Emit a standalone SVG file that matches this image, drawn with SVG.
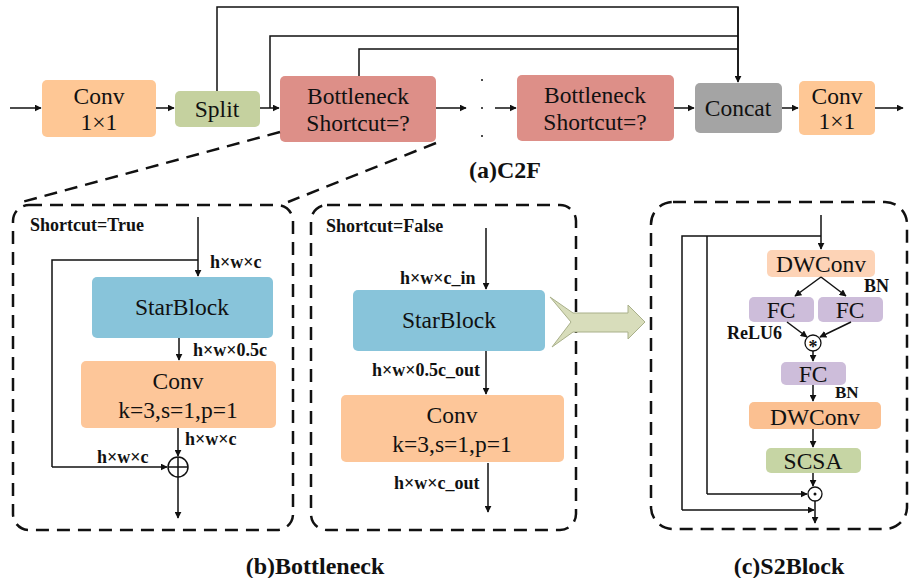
<svg xmlns="http://www.w3.org/2000/svg" width="909" height="578" viewBox="0 0 909 578">
<defs>
<marker id="ah" viewBox="0 0 10 10" refX="9" refY="5" markerWidth="7" markerHeight="7" markerUnits="userSpaceOnUse" orient="auto"><path d="M0,0 L10,5 L0,10 z" fill="#111"/></marker>
<style>
.ln{fill:none;stroke:#111;stroke-width:1.5}
.ar{fill:none;stroke:#111;stroke-width:1.5;marker-end:url(#ah)}
.dash{fill:none;stroke:#111;stroke-width:2.5;stroke-dasharray:13 8}
.bt{font-family:"Liberation Serif","Times New Roman",serif;font-size:23.5px;fill:#111;text-anchor:middle}
.lb{font-family:"Liberation Serif","Times New Roman",serif;font-size:18px;font-weight:bold;fill:#111}
.cap{font-family:"Liberation Serif","Times New Roman",serif;font-size:24px;font-weight:bold;fill:#111;text-anchor:middle}
</style>
</defs>
<rect width="909" height="578" fill="#fff"/>

<!-- top row nodes -->
<g id="conv1"><rect x="42" y="80" width="114" height="57" rx="5" fill="#FEC795"/><text class="bt" x="99" y="104">Conv</text><text class="bt" x="99" y="130">1×1</text></g>
<g id="split"><rect x="175" y="91" width="85" height="36" rx="5" fill="#C5D19F"/><text class="bt" x="217" y="117">Split</text></g>
<g id="bneck1"><rect x="280" y="76" width="156" height="66" rx="5" fill="#DD8F88"/><text class="bt" x="358" y="104">Bottleneck</text><text class="bt" x="358" y="131">Shortcut=?</text></g>
<g id="dots"><circle cx="482" cy="80" r="1" fill="#111"/><circle cx="482" cy="108" r="1" fill="#111"/><circle cx="482" cy="136" r="1" fill="#111"/></g>
<g id="bneck2"><rect x="517" y="75" width="157" height="66" rx="5" fill="#DD8F88"/><text class="bt" x="595" y="103">Bottleneck</text><text class="bt" x="595" y="130">Shortcut=?</text></g>
<g id="concat"><rect x="695" y="83" width="87" height="50" rx="5" fill="#A4A4A4"/><text class="bt" x="738" y="116">Concat</text></g>
<g id="conv2"><rect x="799" y="81" width="76" height="54" rx="5" fill="#FEC795"/><text class="bt" x="837" y="104">Conv</text><text class="bt" x="837" y="129">1×1</text></g>
<text class="cap" x="505" y="178">(a)C2F</text>

<!-- (b) left box -->
<g id="boxTrue">
<rect class="dash" x="13" y="205" width="280" height="325" rx="16"/>
<text class="lb" x="30" y="231">Shortcut=True</text>
<g id="star1"><rect x="92" y="277" width="181" height="61" rx="5" fill="#88C4DA"/><text class="bt" x="182" y="315">StarBlock</text></g>
<g id="convb1"><rect x="81" y="361" width="195" height="67" rx="5" fill="#FDC699"/><text class="bt" x="178" y="389">Conv</text><text class="bt" x="178" y="418">k=3,s=1,p=1</text></g>
<g id="add"><circle cx="178" cy="467" r="10" fill="#fff" stroke="#111" stroke-width="1.5"/><path class="ln" d="M168,467 H188 M178,457 V477"/></g>
<text class="lb" x="210" y="268">h×w×c</text>
<text class="lb" x="193" y="356">h×w×0.5c</text>
<text class="lb" x="185" y="445">h×w×c</text>
<text class="lb" x="97" y="463">h×w×c</text>
</g>

<!-- (b) right box -->
<g id="boxFalse">
<rect class="dash" x="311" y="205" width="265" height="325" rx="16"/>
<text class="lb" x="326" y="232">Shortcut=False</text>
<g id="star2"><rect x="353" y="290" width="192" height="61" rx="5" fill="#88C4DA"/><text class="bt" x="449" y="328">StarBlock</text></g>
<g id="convb2"><rect x="341" y="395" width="223" height="67" rx="5" fill="#FDC699"/><text class="bt" x="452" y="423">Conv</text><text class="bt" x="452" y="452">k=3,s=1,p=1</text></g>
<text class="lb" x="400" y="284">h×w×c_in</text>
<text class="lb" x="372" y="376">h×w×0.5c_out</text>
<text class="lb" x="394" y="489">h×w×c_out</text>
</g>
<text class="cap" x="315" y="574">(b)Bottleneck</text>

<!-- big chevron arrow -->
<g id="bigArrow"><path d="M550,297 L573,313 L628,313 L628,305 L645,322 L628,339 L628,332 L573,332 L552,347 L571,322 Z" fill="#D8DDBB" stroke="#A9B08A" stroke-width="1"/></g>

<!-- (c) box -->
<g id="boxS2">
<rect class="dash" x="651" y="202" width="256" height="327" rx="22"/>
<g id="dw1"><rect x="767" y="250" width="108" height="27" rx="5" fill="#FDD3B6"/><text class="bt" x="821" y="272">DWConv</text></g>
<g id="fc1"><rect x="749" y="297" width="65" height="25" rx="5" fill="#CDBDDA"/><text class="bt" x="781" y="318">FC</text></g>
<g id="fc2"><rect x="818" y="297" width="65" height="25" rx="5" fill="#CDBDDA"/><text class="bt" x="850" y="318">FC</text></g>
<g id="mul"><circle cx="813" cy="343" r="8" fill="#fff" stroke="#111" stroke-width="1.3"/><text x="813" y="353" style="font-family:'Liberation Serif',serif;font-size:18px;font-weight:bold;text-anchor:middle;fill:#111">*</text></g>
<g id="fc3"><rect x="781" y="362" width="65" height="23" rx="5" fill="#CDBDDA"/><text class="bt" x="813" y="382">FC</text></g>
<g id="dw2"><rect x="749" y="402" width="132" height="27" rx="5" fill="#FBC091"/><text class="bt" x="815" y="425">DWConv</text></g>
<g id="scsa"><rect x="766" y="448" width="95" height="25" rx="5" fill="#C6D5A4"/><text class="bt" x="813" y="469">SCSA</text></g>
<g id="dot"><circle cx="815" cy="494" r="7" fill="#fff" stroke="#111" stroke-width="1.3"/><circle cx="815" cy="494" r="1.5" fill="#111"/></g>
<text class="lb" x="864" y="292">BN</text>
<text class="lb" x="727" y="339">ReLU6</text>
<text class="lb" x="835" y="398" style="font-size:17px">BN</text>
</g>
<text class="cap" x="789" y="574">(c)S2Block</text>

<!-- connectors -->
<g id="connectors">
<path class="ar" d="M10,108 H41"/>
<path class="ar" d="M156,108 H174"/>
<path class="ar" d="M260,108 H279"/>
<path class="ln" d="M270,108 V36 H738"/>
<path class="ln" d="M217,91 V7 H738 V81"/>
<path class="ar" d="M738,7 V82"/>
<path class="ln" d="M359,76 V49 H738"/>
<path class="ar" d="M436,108 H466"/>
<path class="ar" d="M495,108 H516"/>
<path class="ar" d="M674,108 H694"/>
<path class="ar" d="M782,108 H798"/>
<path class="ar" d="M875,108 H903"/>
<path class="dash" d="M280,132 L22,202"/>
<path class="dash" d="M436,143 L288,202"/>
<!-- b1 -->
<path class="ar" d="M198,217 V276"/>
<path class="ln" d="M198,260 H52 V467"/>
<path class="ar" d="M52,467 H167"/>
<path class="ar" d="M179,338 V360"/>
<path class="ar" d="M178,428 V456"/>
<path class="ar" d="M178,477 V518"/>
<!-- b2 -->
<path class="ar" d="M486,228 V289"/>
<path class="ar" d="M486,351 V394"/>
<path class="ar" d="M488,463 V512"/>
<!-- c -->
<path class="ar" d="M821,215 V249"/>
<path class="ln" d="M821,236 H682 V510"/>
<path class="ar" d="M682,510 H814"/>
<path class="ln" d="M707,236 V494"/>
<path class="ar" d="M707,494 H807"/>
<path class="ar" d="M821,277 L795,296"/>
<path class="ar" d="M821,277 L846,296"/>
<path class="ar" d="M787,322 L807,337"/>
<path class="ar" d="M851,322 L820,337"/>
<path class="ar" d="M813,351 V361"/>
<path class="ar" d="M813,385 V401"/>
<path class="ar" d="M813,429 V447"/>
<path class="ar" d="M813,473 V486"/>
<path class="ar" d="M815,501 V523"/>
</g>
</svg>
